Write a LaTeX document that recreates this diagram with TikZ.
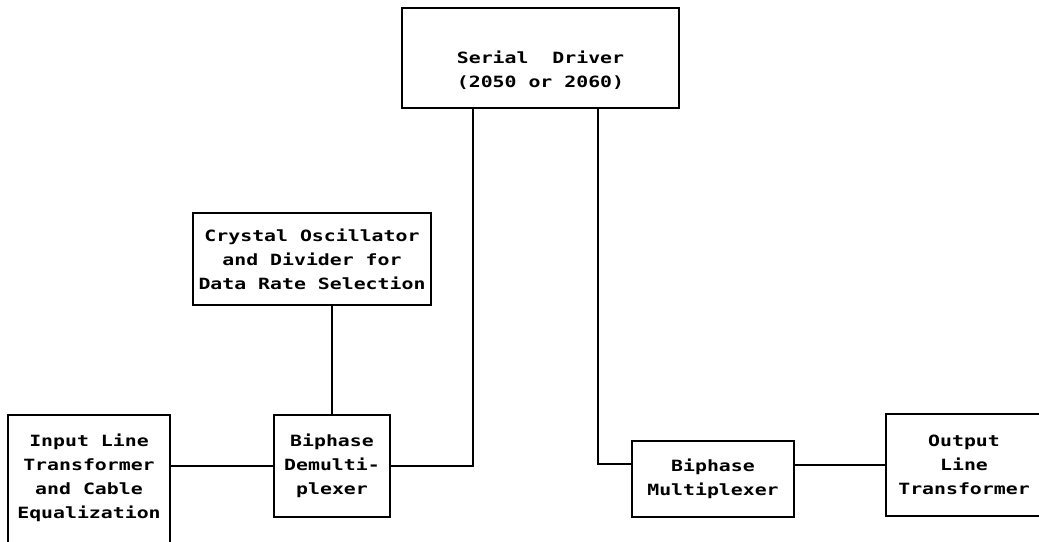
\documentclass[tikz,border=0pt]{standalone}
\usepackage{fontspec}
\setmonofont[FakeStretch=1.28]{DejaVu Sans Mono}
\usetikzlibrary{calc}
\begin{document}
\begin{tikzpicture}[x=1pt, y=-1pt, every node/.style={font=\ttfamily\bfseries\fontsize{15.5}{24}\selectfont}]
  \tikzstyle{blk} = [draw, line width=1.3pt, rectangle, align=center, inner sep=0pt]
  \tikzstyle{wire} = [line width=1.3pt]
  \useasboundingbox (0,0) rectangle (1039,541);
  \node[blk, minimum width=277, minimum height=100] (drv) at (540.5, 58) {};
  \node[align=center] (drvtxt) at (540.5, 70) {Serial\ \ Driver\\(2050 or 2060)};
  \node[blk, minimum width=238, minimum height=92] (osc) at (312, 259) {Crystal Oscillator\\and Divider for\\Data Rate Selection};
  \node[blk, minimum width=162, minimum height=160] (inp) at (89, 495) {};
  \node[align=center] (inptxt) at (89, 478) {Input Line\\Transformer\\and Cable\\Equalization};
  \node[blk, minimum width=116, minimum height=102] (dmx) at (332, 466) {Biphase\\Demulti-\\plexer};
  \node[blk, minimum width=162, minimum height=76] (mux) at (713, 479) {Biphase\\Multiplexer};
  \node[blk, minimum width=156, minimum height=102] (out) at (964, 465) {Output\\Line\\Transformer};
  \draw[wire] (dmx.north) -- (dmx.north |- osc.south);
  \draw[wire] (dmx.west) -- (dmx.west -| inp.east);
  \draw[wire] (dmx.east) -| ([xshift=-67.5]drv.south);
  \draw[wire] ([xshift=57.5]drv.south) |- ([yshift=15]mux.west);
  \draw[wire] (out.west) -- (out.west -| mux.east);
\end{tikzpicture}
\end{document}
